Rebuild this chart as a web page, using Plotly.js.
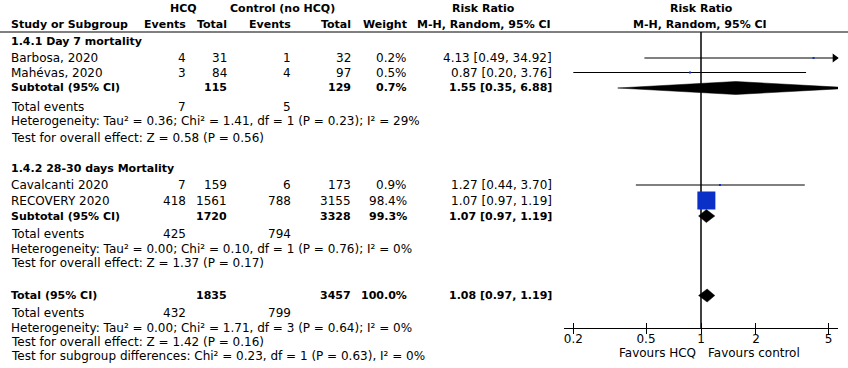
<!DOCTYPE html>
<html>
<head>
<meta charset="utf-8">
<script src="https://cdn.plot.ly/plotly-3.0.1.min.js"></script>
<style>html,body{margin:0;padding:0;background:#fff}#chart{width:848px;height:368px}</style>
</head>
<body>
<div id="chart"></div>
<script>
// ---- data ----
const studies = ['Barbosa, 2020', 'Mahévas, 2020', 'Cavalcanti 2020', 'RECOVERY 2020'];
const hcqEvents = [4, 3, 7, 418];
const hcqTotal = [31, 84, 159, 1561];
const ctlEvents = [1, 4, 6, 788];
const ctlTotal = [32, 97, 173, 3155];
const weightPct = [0.2, 0.5, 0.9, 98.4];
const rr = [4.13, 0.87, 1.27, 1.07];
const rrLo = [0.49, 0.20, 0.44, 0.97];
const rrHi = [34.92, 3.76, 3.70, 1.19];

const groupTitles = ['1.4.1 Day 7 mortality', '1.4.2 28-30 days Mortality'];
const groupHcqTotal = [115, 1720];
const groupCtlTotal = [129, 3328];
const groupWeight = [0.7, 99.3];
const groupRR = [1.55, 1.07];
const groupLo = [0.35, 0.97];
const groupHi = [6.88, 1.19];
const groupHcqEvents = [7, 425];
const groupCtlEvents = [5, 794];
const groupHet = ['Heterogeneity: Tau² = 0.36; Chi² = 1.41, df = 1 (P = 0.23); I² = 29%',
                  'Heterogeneity: Tau² = 0.00; Chi² = 0.10, df = 1 (P = 0.76); I² = 0%'];
const groupTest = ['Test for overall effect: Z = 0.58 (P = 0.56)',
                   'Test for overall effect: Z = 1.37 (P = 0.17)'];

const totalHcq = 1835, totalCtl = 3457, totalWeight = 100.0;
const totalRR = 1.08, totalLo = 0.97, totalHi = 1.19;
const totalHcqEvents = 432, totalCtlEvents = 799;
const totalHet = 'Heterogeneity: Tau² = 0.00; Chi² = 1.71, df = 3 (P = 0.64); I² = 0%';
const totalTest = 'Test for overall effect: Z = 1.42 (P = 0.16)';
const subgroupTest = 'Test for subgroup differences: Chi² = 0.23, df = 1 (P = 0.63), I² = 0%';

const tickVals = [0.2, 0.5, 1, 2, 5];
const tickText = ['0.2', '0.5', '1', '2', '5'];

// ---- layout (pixel rows / columns) ----
const W = 848, H = 368;
const studyY = [58, 72.5, 185, 200.5];
const groupTitleY = [41, 168];
const groupSubY = [88, 216];
const groupEvY = [106.5, 233.5];
const groupHetY = [121, 248.5];
const groupTestY = [137.5, 262.5];
const totalY = 295.5, totalEvY = 313, totalHetY = 327.5, totalTestY = 341.5, subTestY = 355.5;
const colX = {name: 10, hcqEv: 187, hcqTot: 228, ctlEv: 292, ctlTot: 352, wt: 408, rr: 553};
const axisY = 328, headLineY = 32;
const xRange = [-0.75, 0.75];
const FONT = 'DejaVu Sans';
const FS = 12, FSB = 11;

const ann = [];
function txt(s, x, y, anchor, bold, size) {
  ann.push({text: bold ? '<b>' + s + '</b>' : s, x: x / W, y: 1 - y / H, xref: 'paper', yref: 'paper',
            xanchor: anchor, yanchor: 'middle', showarrow: false, borderpad: 0,
            font: {family: FONT, size: size || (bold ? FSB : FS), color: '#000'}});
}
const fmtRR = (r, l, h) => r.toFixed(2) + ' [' + l.toFixed(2) + ', ' + h.toFixed(2) + ']';
const fmtW = w => w.toFixed(1) + '%';

// headers
txt('HCQ', 183, 8.5, 'center', true);
txt('Control (no HCQ)', 282, 8.5, 'center', true);
txt('Risk Ratio', 483, 8.5, 'center', true);
txt('Risk Ratio', 701, 8.5, 'center', true);
txt('Study or Subgroup', colX.name, 24.5, 'left', true);
txt('Events', colX.hcqEv, 24.5, 'right', true);
txt('Total', colX.hcqTot, 24.5, 'right', true);
txt('Events', colX.ctlEv, 24.5, 'right', true);
txt('Total', colX.ctlTot, 24.5, 'right', true);
txt('Weight', colX.wt, 24.5, 'right', true);
txt('M-H, Random, 95% CI', 484, 24.5, 'center', true);
txt('M-H, Random, 95% CI', 700, 24.5, 'center', true);

// study rows
studies.forEach((s, i) => {
  const y = studyY[i];
  txt(s, colX.name, y, 'left');
  txt(String(hcqEvents[i]), colX.hcqEv, y, 'right');
  txt(String(hcqTotal[i]), colX.hcqTot, y, 'right');
  txt(String(ctlEvents[i]), colX.ctlEv, y, 'right');
  txt(String(ctlTotal[i]), colX.ctlTot, y, 'right');
  txt(fmtW(weightPct[i]), colX.wt, y, 'right');
  txt(fmtRR(rr[i], rrLo[i], rrHi[i]), colX.rr, y, 'right');
});
// group rows
groupTitles.forEach((g, k) => {
  txt(g, colX.name, groupTitleY[k], 'left', true);
  const y = groupSubY[k];
  txt('Subtotal (95% CI)', colX.name, y, 'left', true);
  txt(String(groupHcqTotal[k]), colX.hcqTot, y, 'right', true);
  txt(String(groupCtlTotal[k]), colX.ctlTot, y, 'right', true);
  txt(fmtW(groupWeight[k]), colX.wt, y, 'right', true);
  txt(fmtRR(groupRR[k], groupLo[k], groupHi[k]), colX.rr, y, 'right', true);
  txt('Total events', colX.name, groupEvY[k], 'left');
  txt(String(groupHcqEvents[k]), colX.hcqEv, groupEvY[k], 'right');
  txt(String(groupCtlEvents[k]), colX.ctlEv, groupEvY[k], 'right');
  txt(groupHet[k], colX.name, groupHetY[k], 'left');
  txt(groupTest[k], colX.name, groupTestY[k], 'left');
});
// totals
txt('Total (95% CI)', colX.name, totalY, 'left', true);
txt(String(totalHcq), colX.hcqTot, totalY, 'right', true);
txt(String(totalCtl), colX.ctlTot, totalY, 'right', true);
txt(fmtW(totalWeight), colX.wt, totalY, 'right', true);
txt(fmtRR(totalRR, totalLo, totalHi), colX.rr, totalY, 'right', true);
txt('Total events', colX.name, totalEvY, 'left');
txt(String(totalHcqEvents), colX.hcqEv, totalEvY, 'right');
txt(String(totalCtlEvents), colX.ctlEv, totalEvY, 'right');
txt(totalHet, colX.name, totalHetY, 'left');
txt(totalTest, colX.name, totalTestY, 'left');
txt(subgroupTest, colX.name, subTestY, 'left');
// favours labels
txt('Favours HCQ', 697, 352.5, 'right');
txt('Favours control', 707, 352.5, 'left');

// ---- traces ----
const traces = [];
// CI lines
const ciX = [], ciY = [];
studies.forEach((s, i) => { ciX.push(rrLo[i], rrHi[i], null); ciY.push(studyY[i], studyY[i], null); });
traces.push({type: 'scatter', mode: 'lines', x: ciX, y: ciY, line: {color: '#000', width: 1}, hoverinfo: 'skip'});
// arrow heads for CIs beyond the axis
const xMax = Math.pow(10, xRange[1]);
const arrX = [], arrY = [];
studies.forEach((s, i) => { if (rrHi[i] > xMax) { arrX.push(Math.pow(10, xRange[1] - 0.018)); arrY.push(studyY[i]); } });
traces.push({type: 'scatter', mode: 'markers', x: arrX, y: arrY, cliponaxis: false,
  marker: {symbol: 'triangle-right', size: 8, color: '#000', opacity: 1}, hoverinfo: 'skip'});
// weighted squares
const maxW = Math.max(...weightPct);
traces.push({type: 'scatter', mode: 'markers', x: rr, y: studyY,
  marker: {symbol: 'square', color: '#0a30c8', opacity: 1, line: {width: 0},
    size: weightPct.map(w => Math.max(2, 18 * Math.sqrt(w / maxW)))}, hoverinfo: 'skip'});
// diamonds
function diamond(r, l, h, y, hh) {
  traces.push({type: 'scatter', mode: 'lines', x: [l, r, h, r, l], y: [y, y - hh, y, y + hh, y],
    fill: 'toself', fillcolor: '#000', line: {color: '#000', width: 0.5}, hoverinfo: 'skip'});
}
groupRR.forEach((r, k) => diamond(r, groupLo[k], groupHi[k], groupSubY[k], 6.5));
diamond(totalRR, totalLo, totalHi, totalY, 6.5);
// dummy trace to carry the lower tick marks axis
traces.push({type: 'scatter', mode: 'markers', x: tickVals, y: tickVals.map(() => axisY), xaxis: 'x2',
  marker: {opacity: 0}, hoverinfo: 'skip'});

const layout = {
  width: W, height: H, margin: {l: 0, r: 0, t: 0, b: 0},
  paper_bgcolor: '#fff', plot_bgcolor: 'rgba(0,0,0,0)', showlegend: false,
  font: {family: FONT, size: FS, color: '#000'},
  xaxis: {type: 'log', domain: [564 / W, 838 / W], range: xRange, anchor: 'y',
    showgrid: false, zeroline: false, showline: true, linecolor: '#000', linewidth: 1,
    ticks: 'inside', ticklen: 5, tickwidth: 1, tickcolor: '#000',
    tickvals: tickVals, ticktext: tickText, tickfont: {family: FONT, size: FS, color: '#000'}, fixedrange: true},
  xaxis2: {type: 'log', overlaying: 'x', range: xRange, anchor: 'y', side: 'bottom',
    showgrid: false, zeroline: false, showline: false, ticks: 'outside', ticklen: 5, tickwidth: 1,
    tickcolor: '#000', tickvals: tickVals, showticklabels: false},
  yaxis: {domain: [(H - axisY) / H, 1], range: [axisY, 0], visible: false, fixedrange: true},
  shapes: [
    {type: 'line', xref: 'paper', yref: 'paper', x0: 0, x1: 1, y0: 1 - headLineY / H, y1: 1 - headLineY / H,
      line: {color: '#000', width: 1}},
    {type: 'line', xref: 'x', yref: 'y', x0: 1, x1: 1, y0: headLineY, y1: axisY, line: {color: '#000', width: 1.5}, layer: 'below'}
  ],
  annotations: ann
};
Plotly.newPlot('chart', traces, layout, {staticPlot: true});
</script>
</body>
</html>
